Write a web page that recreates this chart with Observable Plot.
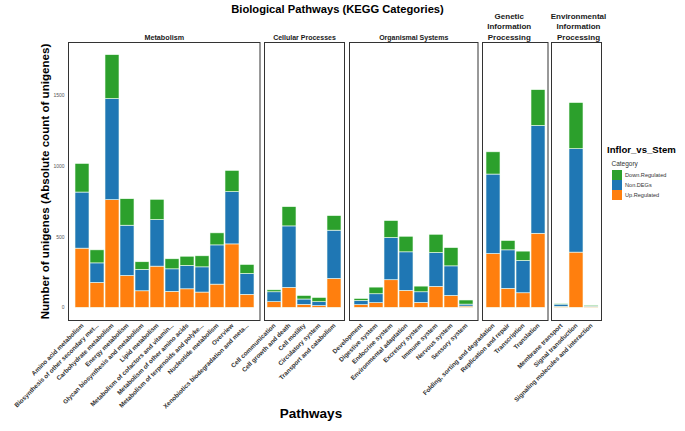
<!DOCTYPE html>
<html><head><meta charset="utf-8">
<script src="https://cdn.jsdelivr.net/npm/d3@7"></script>
<script src="https://cdn.jsdelivr.net/npm/@observablehq/plot@0.6"></script>
<style>
body{margin:0;background:#fff;font-family:"Liberation Sans",Arial,sans-serif;}
#chart{position:relative;width:685px;height:431px;overflow:hidden;background:#fff;}
#chart svg{position:absolute;top:0;overflow:visible;background:transparent;}
.t{position:absolute;white-space:nowrap;font-weight:bold;color:#000;}
</style></head><body><div id="chart"></div>
<script>
// ---------- data ----------
const groups = ["Metabolism", "Cellular Processes", "Organismal Systems", "Genetic\nInformation\nProcessing", "Environmental\nInformation\nProcessing"];
const metabolismPaths = ["Amino acid metabolism", "Biosynthesis of other secondary met...", "Carbohydrate metabolism", "Energy metabolism", "Glycan biosynthesis and metabolism", "Lipid metabolism", "Metabolism of cofactors and vitamin...", "Metabolism of other amino acids", "Metabolism of terpenoids and polyke...", "Nucleotide metabolism", "Overview", "Xenobiotics biodegradation and meta..."];
const cellularPaths = ["Cell communication", "Cell growth and death", "Cell motility", "Circulatory system", "Transport and catabolism"];
const organismalPaths = ["Development", "Digestive system", "Endocrine system", "Environmental adaptation", "Excretory system", "Immune system", "Nervous system", "Sensory system"];
const geneticPaths = ["Folding, sorting and degradation", "Replication and repair", "Transcription", "Translation"];
const environmentalPaths = ["Membrane transport", "Signal transduction", "Signaling molecules and interaction"];

const metabolismUp   = [418, 176, 760, 225, 117, 291, 113, 131, 108, 164, 448, 92];
const metabolismNon  = [396, 138, 714, 355, 151, 329, 159, 165, 178, 277, 369, 147];
const metabolismDown = [202, 92, 310, 187, 54, 143, 71, 65, 78, 85, 150, 64];
const cellularUp   = [40, 141, 21, 12, 204];
const cellularNon  = [70, 434, 38, 28, 341];
const cellularDown = [14, 136, 25, 30, 103];
const organismalUp   = [19, 33, 195, 120, 35, 148, 84, 9];
const organismalNon  = [30, 63, 298, 272, 75, 239, 209, 14];
const organismalDown = [14, 47, 120, 110, 40, 129, 129, 29];
const geneticUp   = [380, 134, 103, 523];
const geneticNon  = [561, 272, 228, 761];
const geneticDown = [157, 66, 66, 253];
const environmentalUp   = [7, 390, 7];
const environmentalNon  = [16, 730, 5];
const environmentalDown = [5, 326, 4];

const categories = ["Down.Regulated", "Non.DEGs", "Up.Regulated"];
const colors = ["#2ca02c", "#1f77b4", "#ff7f0e"];
const yTicks = [0, 500, 1000, 1500];

// ---------- build ----------
const groupData = [
  [metabolismPaths, metabolismUp, metabolismNon, metabolismDown],
  [cellularPaths, cellularUp, cellularNon, cellularDown],
  [organismalPaths, organismalUp, organismalNon, organismalDown],
  [geneticPaths, geneticUp, geneticNon, geneticDown],
  [environmentalPaths, environmentalUp, environmentalNon, environmentalDown]
];
const totals = groupData.flatMap(([p, u, n, d]) => p.map((_, i) => u[i] + n[i] + d[i]));
const maxT = d3.max(totals);
const yDomain = [-0.05 * maxT, 1.05 * maxT];

// layout (panel extents in px)
const panelLeft  = [68, 263.5, 349, 481.5, 551];
const panelRight = [259.5, 343.5, 477.5, 547, 601];
const stripSize = [7.2, 7, 7, 8, 8];
const stripDx = [0, 0, 0, -6, 2];
const svgH = 431, panelTop = 42, panelBottom = 320;

const chart = document.getElementById("chart");

groupData.forEach(([paths, up, non, down], g) => {
  const rows = [];
  paths.forEach((p, i) => {
    rows.push({pathway: p, category: "Up.Regulated", value: up[i]});
    rows.push({pathway: p, category: "Non.DEGs", value: non[i]});
    rows.push({pathway: p, category: "Down.Regulated", value: down[i]});
  });
  const first = g === 0;
  const ml = first ? panelLeft[0] : 0;
  const w = panelRight[g] - panelLeft[g];
  const svg = Plot.plot({
    width: ml + w, height: svgH,
    marginTop: panelTop, marginBottom: svgH - panelBottom, marginLeft: ml, marginRight: 0,
    style: {background: "transparent", overflow: "visible", fontFamily: "Liberation Sans, Arial, sans-serif"},
    x: {domain: paths, paddingInner: 0.1, paddingOuter: 0.15, axis: null},
    y: {domain: yDomain, axis: null},
    color: {domain: categories, range: colors},
    marks: [
      Plot.barY(rows, {x: "pathway", y: "value", fill: "category", stroke: "#f4fff4", strokeWidth: 0.6}),
      Plot.frame({stroke: "#333", strokeWidth: 1}),
      Plot.axisX({tickRotate: -45, tickSize: 0, tickPadding: 4, fontSize: 6.3, fontWeight: "bold", fill: "#333", label: null}),
      first ? Plot.axisY({ticks: yTicks, tickFormat: d3.format("d"), tickSize: 0, tickPadding: 4, fontSize: 5, fill: "#555", label: null}) : null,
      first ? Plot.text(["Number of unigenes (Absolute count of unigenes)"], {frameAnchor: "left", textAnchor: "middle", rotate: -90, dx: -23, fontSize: 11.6, fontWeight: "bold", fill: "#000"}) : null,
      Plot.text([groups[g]], {frameAnchor: "top", lineAnchor: "bottom", dy: -3, dx: stripDx[g], fontSize: stripSize[g], lineHeight: 1.29, fontWeight: "bold", fill: "#1a1a1a"})
    ]
  });
  svg.style.left = (panelLeft[g] - ml) + "px";
  chart.appendChild(svg);
});

// title & axis title
const title = document.createElement("div");
title.className = "t";
title.style.cssText = "left:0;width:675px;text-align:center;top:3px;font-size:11.2px;";
title.textContent = "Biological Pathways (KEGG Categories)";
chart.appendChild(title);

const xt = document.createElement("div");
xt.className = "t";
xt.style.cssText = "left:211px;width:200px;text-align:center;top:406px;font-size:13.5px;";
xt.textContent = "Pathways";
chart.appendChild(xt);

// legend
const leg = document.createElement("div");
leg.style.cssText = "position:absolute;left:607px;top:143px;";
leg.innerHTML = `<div style="font-weight:bold;font-size:9.6px;color:#000;line-height:14px">Inflor_vs_Stem</div>
<div style="font-size:6.5px;color:#333;margin:3px 0 3px 4.5px">Category</div>` +
categories.map((c, i) => `<div style="display:flex;align-items:center;margin-left:4.5px;height:10px"><span style="display:inline-block;width:10px;height:10px;background:${colors[i]}"></span><span style="font-size:5.6px;color:#333;margin-left:3.5px">${c}</span></div>`).join("");
chart.appendChild(leg);
</script></body></html>
